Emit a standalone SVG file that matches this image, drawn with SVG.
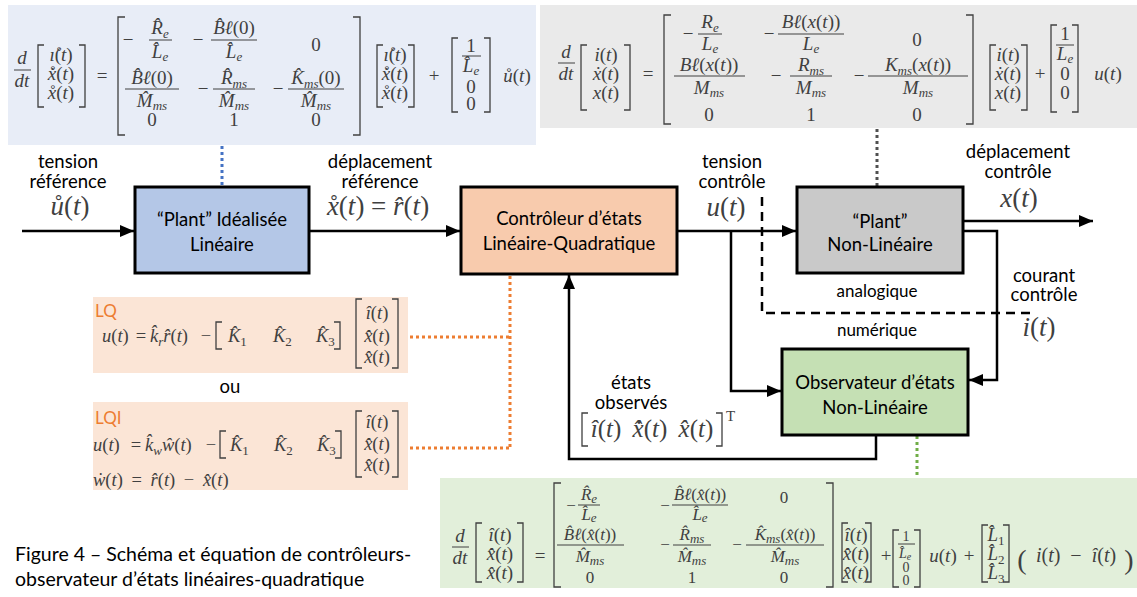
<svg xmlns="http://www.w3.org/2000/svg" width="1137" height="597" viewBox="0 0 1137 597">
<defs>
<style>
.box{stroke:#000;stroke-width:3}
.t{font-family:Lato,"Liberation Sans",sans-serif;font-size:18.5px;fill:#000;text-anchor:middle}
.sm{font-size:17px}
.cap{font-family:Lato,"Liberation Sans",sans-serif;font-size:19.5px;fill:#000}
.tag{font-family:Lato,"Liberation Sans",sans-serif;font-size:17px;fill:#ED7D31}
.m{font-family:"Liberation Serif","DejaVu Serif",serif;font-size:19px;font-style:italic;fill:#404040}
.c{text-anchor:middle}
.u{font-style:normal}
.s{font-size:13px}
.L{font-size:27px}
.q{font-size:18.5px}
.g{font-size:17px}
.v{font-size:14px}
.br{fill:none;stroke:#404040;stroke-width:1.3}
.fr{stroke:#404040;stroke-width:1}
.con{fill:none;stroke:#000;stroke-width:2.5}
.dash{fill:none;stroke:#000;stroke-width:2.5;stroke-dasharray:9 6}
.dot{fill:none;stroke-width:3;stroke-dasharray:3 3}
</style>
<marker id="ah" markerUnits="userSpaceOnUse" markerWidth="14" markerHeight="12" refX="14" refY="6" orient="auto"><path d="M0 0L14 6L0 12z" fill="#000"/></marker>
</defs>
<rect width="1137" height="597" fill="#fff"/>

<g id="eq-ideal">
<rect x="8" y="5" width="528" height="140" fill="#E8EDF7"/>
<text class="m c" x="22" y="64">d</text>
<line class="fr" x1="14" y1="70" x2="31" y2="70"/>
<text class="m c" x="22" y="87">dt</text>
<path class="br" d="M44 45H38V107H44M79 45H85V107H79"/>
<text class="m c" x="61" y="61">&#x131;&#x30A;<tspan class="u">(</tspan>t<tspan class="u">)</tspan></text>
<text class="m c" x="61" y="80">x&#x30A;&#x307;<tspan class="u">(</tspan>t<tspan class="u">)</tspan></text>
<text class="m c" x="61" y="99">x&#x30A;<tspan class="u">(</tspan>t<tspan class="u">)</tspan></text>
<text class="m u c" x="102" y="82">=</text>
<path class="br" d="M125 17H118V135H125M353 17H360V135H353"/>
<text class="m u c" x="128" y="46">&#x2212;</text>
<text class="m c" x="160" y="34">R&#x302;<tspan class="s" dy="4">e</tspan></text>
<line class="fr" x1="149" y1="40" x2="172" y2="40"/>
<text class="m c" x="160" y="58">L&#x302;<tspan class="s" dy="3">e</tspan></text>
<text class="m u c" x="198" y="46">&#x2212;</text>
<text class="m c" x="234" y="34">B&#x302;&#x2113;<tspan class="u">(0)</tspan></text>
<line class="fr" x1="211" y1="40" x2="257" y2="40"/>
<text class="m c" x="234" y="58">L&#x302;<tspan class="s" dy="3">e</tspan></text>
<text class="m u c" x="316" y="51">0</text>
<text class="m c" x="152" y="84">B&#x302;&#x2113;<tspan class="u">(0)</tspan></text>
<line class="fr" x1="125" y1="89" x2="179" y2="89"/>
<text class="m c" x="152" y="107">M&#x302;<tspan class="s" dy="3">ms</tspan></text>
<text class="m u c" x="203" y="95">&#x2212;</text>
<text class="m c" x="234" y="84">R&#x302;<tspan class="s" dy="4">ms</tspan></text>
<line class="fr" x1="213" y1="89" x2="255" y2="89"/>
<text class="m c" x="234" y="107">M&#x302;<tspan class="s" dy="3">ms</tspan></text>
<text class="m u c" x="278" y="95">&#x2212;</text>
<text class="m c" x="316" y="84">K&#x302;<tspan class="s" dy="4">ms</tspan><tspan class="u" dy="-4">(0)</tspan></text>
<line class="fr" x1="288" y1="89" x2="344" y2="89"/>
<text class="m c" x="316" y="107">M&#x302;<tspan class="s" dy="3">ms</tspan></text>
<text class="m u c" x="152" y="126">0</text>
<text class="m u c" x="234" y="126">1</text>
<text class="m u c" x="316" y="126">0</text>
<path class="br" d="M383 45H377V107H383M408 45H414V107H408"/>
<text class="m c" x="395" y="61">&#x131;&#x30A;<tspan class="u">(</tspan>t<tspan class="u">)</tspan></text>
<text class="m c" x="395" y="80">x&#x30A;&#x307;<tspan class="u">(</tspan>t<tspan class="u">)</tspan></text>
<text class="m c" x="395" y="99">x&#x30A;<tspan class="u">(</tspan>t<tspan class="u">)</tspan></text>
<text class="m u c" x="434" y="82">+</text>
<path class="br" d="M458 38H452V112H458M484 38H490V112H484"/>
<text class="m u c" x="471" y="52">1</text>
<line class="fr" x1="462" y1="56" x2="481" y2="56"/>
<text class="m c" x="471" y="72">L&#x302;<tspan class="s" dy="3">e</tspan></text>
<text class="m u c" x="471" y="93">0</text>
<text class="m u c" x="471" y="110">0</text>
<text class="m c" x="517" y="82">&#x16F;<tspan class="u">(</tspan>t<tspan class="u">)</tspan></text>
</g>

<g id="eq-plant">
<rect x="540" y="5" width="597" height="123" fill="#EAEAEA"/>
<text class="m c" x="566" y="58">d</text>
<line class="fr" x1="558" y1="63" x2="575" y2="63"/>
<text class="m c" x="566" y="80">dt</text>
<path class="br" d="M587 45H581V110H587M624 45H630V110H624"/>
<text class="m c" x="606" y="61">i<tspan class="u">(</tspan>t<tspan class="u">)</tspan></text>
<text class="m c" x="606" y="80">&#x1E8B;<tspan class="u">(</tspan>t<tspan class="u">)</tspan></text>
<text class="m c" x="606" y="99">x<tspan class="u">(</tspan>t<tspan class="u">)</tspan></text>
<text class="m u c" x="648" y="80">=</text>
<path class="br" d="M671 15H664V124H671M966 15H973V124H966"/>
<text class="m u c" x="688" y="40">&#x2212;</text>
<text class="m c" x="710" y="28">R<tspan class="s" dy="4">e</tspan></text>
<line class="fr" x1="698" y1="34" x2="722" y2="34"/>
<text class="m c" x="710" y="50">L<tspan class="s" dy="3">e</tspan></text>
<text class="m u c" x="769" y="40">&#x2212;</text>
<text class="m c" x="811" y="28">B&#x2113;<tspan class="u">(</tspan>x<tspan class="u">(</tspan>t<tspan class="u">))</tspan></text>
<line class="fr" x1="778" y1="34" x2="844" y2="34"/>
<text class="m c" x="811" y="50">L<tspan class="s" dy="3">e</tspan></text>
<text class="m u c" x="917" y="46">0</text>
<text class="m c" x="709" y="71">B&#x2113;<tspan class="u">(</tspan>x<tspan class="u">(</tspan>t<tspan class="u">))</tspan></text>
<line class="fr" x1="674" y1="76" x2="745" y2="76"/>
<text class="m c" x="709" y="94">M<tspan class="s" dy="3">ms</tspan></text>
<text class="m u c" x="776" y="82">&#x2212;</text>
<text class="m c" x="811" y="71">R<tspan class="s" dy="4">ms</tspan></text>
<line class="fr" x1="790" y1="76" x2="832" y2="76"/>
<text class="m c" x="811" y="94">M<tspan class="s" dy="3">ms</tspan></text>
<text class="m u c" x="859" y="82">&#x2212;</text>
<text class="m c" x="918" y="71">K<tspan class="s" dy="4">ms</tspan><tspan class="u" dy="-4">(</tspan>x<tspan class="u">(</tspan>t<tspan class="u">))</tspan></text>
<line class="fr" x1="868" y1="76" x2="968" y2="76"/>
<text class="m c" x="918" y="94">M<tspan class="s" dy="3">ms</tspan></text>
<text class="m u c" x="709" y="121">0</text>
<text class="m u c" x="811" y="121">1</text>
<text class="m u c" x="917" y="121">0</text>
<path class="br" d="M996 45H990V110H996M1021 45H1027V110H1021"/>
<text class="m c" x="1008" y="61">i<tspan class="u">(</tspan>t<tspan class="u">)</tspan></text>
<text class="m c" x="1008" y="80">&#x1E8B;<tspan class="u">(</tspan>t<tspan class="u">)</tspan></text>
<text class="m c" x="1008" y="99">x<tspan class="u">(</tspan>t<tspan class="u">)</tspan></text>
<text class="m u c" x="1040" y="80">+</text>
<path class="br" d="M1057 25H1051V112H1057M1072 25H1078V112H1072"/>
<text class="m u c" x="1065" y="40">1</text>
<line class="fr" x1="1056" y1="45" x2="1074" y2="45"/>
<text class="m c" x="1065" y="60">L<tspan class="s" dy="3">e</tspan></text>
<text class="m u c" x="1065" y="80">0</text>
<text class="m u c" x="1065" y="99">0</text>
<text class="m c" x="1108" y="80">u<tspan class="u">(</tspan>t<tspan class="u">)</tspan></text>
</g>

<g id="eq-observer">
<rect x="440" y="478" width="697" height="110" fill="#E2EFDA"/>
<text class="m c" x="460" y="542">d</text>
<line class="fr" x1="452" y1="547" x2="469" y2="547"/>
<text class="m c" x="460" y="564">dt</text>
<path class="br" d="M482 523H476V582H482M517 523H523V582H517"/>
<text class="m c" x="500" y="541">&#xEE;<tspan class="u">(</tspan>t<tspan class="u">)</tspan></text>
<text class="m c" x="500" y="560">x&#x302;&#x307;<tspan class="u">(</tspan>t<tspan class="u">)</tspan></text>
<text class="m c" x="500" y="579">x&#x302;<tspan class="u">(</tspan>t<tspan class="u">)</tspan></text>
<text class="m u c" x="540" y="562">=</text>
<path class="br" d="M561 483H554V587H561M826 483H833V587H826"/>
<text class="m g u c" x="571" y="511">&#x2212;</text>
<text class="m g c" x="589" y="500">R&#x302;<tspan class="s" dy="3">e</tspan></text>
<line class="fr" x1="578" y1="505" x2="600" y2="505"/>
<text class="m g c" x="589" y="520">L&#x302;<tspan class="s" dy="2">e</tspan></text>
<text class="m g u c" x="665" y="511">&#x2212;</text>
<text class="m g c" x="700" y="500">B&#x302;&#x2113;<tspan class="u">(</tspan>x&#x302;<tspan class="u">(</tspan>t<tspan class="u">))</tspan></text>
<line class="fr" x1="672" y1="505" x2="728" y2="505"/>
<text class="m g c" x="700" y="520">L&#x302;<tspan class="s" dy="2">e</tspan></text>
<text class="m g u c" x="784" y="503">0</text>
<text class="m g c" x="590" y="540">B&#x302;&#x2113;<tspan class="u">(</tspan>x&#x302;<tspan class="u">(</tspan>t<tspan class="u">))</tspan></text>
<line class="fr" x1="557" y1="545" x2="624" y2="545"/>
<text class="m g c" x="590" y="562">M&#x302;<tspan class="s" dy="3">ms</tspan></text>
<text class="m g u c" x="665" y="550">&#x2212;</text>
<text class="m g c" x="692" y="540">R&#x302;<tspan class="s" dy="3">ms</tspan></text>
<line class="fr" x1="673" y1="545" x2="711" y2="545"/>
<text class="m g c" x="692" y="562">M&#x302;<tspan class="s" dy="3">ms</tspan></text>
<text class="m g u c" x="737" y="550">&#x2212;</text>
<text class="m g c" x="785" y="540">K&#x302;<tspan class="s" dy="3">ms</tspan><tspan class="u" dy="-3">(</tspan>x&#x302;<tspan class="u">(</tspan>t<tspan class="u">))</tspan></text>
<line class="fr" x1="746" y1="545" x2="824" y2="545"/>
<text class="m g c" x="785" y="562">M&#x302;<tspan class="s" dy="3">ms</tspan></text>
<text class="m g u c" x="590" y="583">0</text>
<text class="m g u c" x="692" y="583">1</text>
<text class="m g u c" x="784" y="583">0</text>
<path class="br" d="M848 523H842V582H848M865 523H871V582H865"/>
<text class="m c" x="856" y="541">&#xEE;<tspan class="u">(</tspan>t<tspan class="u">)</tspan></text>
<text class="m c" x="856" y="560">x&#x302;&#x307;<tspan class="u">(</tspan>t<tspan class="u">)</tspan></text>
<text class="m c" x="856" y="579">x&#x302;<tspan class="u">(</tspan>t<tspan class="u">)</tspan></text>
<text class="m u c" x="886" y="562">+</text>
<path class="br" d="M899 530H893V587H899M914 530H920V587H914"/>
<text class="m v u c" x="906" y="541">1</text>
<line class="fr" x1="898" y1="544" x2="915" y2="544"/>
<text class="m v c" x="905" y="558">L&#x302;<tspan style="font-size:10px" dy="2">e</tspan></text>
<text class="m v u c" x="906" y="572">0</text>
<text class="m v u c" x="906" y="585">0</text>
<text class="m c" x="943" y="562">u<tspan class="u">(</tspan>t<tspan class="u">)</tspan></text>
<text class="m u c" x="969" y="562">+</text>
<path class="br" d="M988 525H982V582H988M1003 525H1009V582H1003"/>
<text class="m c" x="996" y="541">L&#x302;<tspan class="s u" dy="4">1</tspan></text>
<text class="m c" x="996" y="560">L&#x302;<tspan class="s u" dy="4">2</tspan></text>
<text class="m c" x="996" y="579">L&#x302;<tspan class="s u" dy="4">3</tspan></text>
<text class="m u c" x="1022" y="569" style="font-size:28px">(</text>
<text class="m c" x="1076" y="562" style="font-size:20px" word-spacing="5">i<tspan class="u">(</tspan>t<tspan class="u">) &#x2212; </tspan>&#xEE;<tspan class="u">(</tspan>t<tspan class="u">)</tspan></text>
<text class="m u c" x="1129" y="569" style="font-size:28px">)</text>
</g>

<g id="eq-lq">
<rect x="93" y="297" width="315" height="76" fill="#FBE5D6"/>
<text class="tag" x="95" y="317">LQ</text>
<text class="m q" x="102" y="342">u<tspan class="u">(</tspan>t<tspan class="u">)</tspan></text>
<text class="m q u c" x="141" y="342">=</text>
<text class="m q" x="150" y="342">k&#x302;<tspan class="s" dy="4">r</tspan><tspan dy="-4">r&#x302;</tspan><tspan class="u">(</tspan>t<tspan class="u">)</tspan></text>
<text class="m q u c" x="206" y="342">&#x2212;</text>
<path class="br" d="M222 322H216V349H222M334 322H340V349H334"/>
<text class="m q" x="228" y="342">K&#x302;<tspan class="s u" dy="4">1</tspan></text>
<text class="m q" x="273" y="342">K&#x302;<tspan class="s u" dy="4">2</tspan></text>
<text class="m q" x="316" y="342">K&#x302;<tspan class="s u" dy="4">3</tspan></text>
<path class="br" d="M362 299H356V368H362M392 299H398V368H392"/>
<text class="m q c" x="377" y="319">&#xEE;<tspan class="u">(</tspan>t<tspan class="u">)</tspan></text>
<text class="m q c" x="377" y="342">x&#x302;&#x307;<tspan class="u">(</tspan>t<tspan class="u">)</tspan></text>
<text class="m q c" x="377" y="363">x&#x302;<tspan class="u">(</tspan>t<tspan class="u">)</tspan></text>
</g>

<text class="t" x="230" y="393">ou</text>

<g id="eq-lqi">
<rect x="93" y="402" width="315" height="88" fill="#FBE5D6"/>
<text class="tag" x="95" y="424">LQI</text>
<text class="m q" x="93" y="451">u<tspan class="u">(</tspan>t<tspan class="u">)</tspan></text>
<text class="m q u c" x="136" y="451">=</text>
<text class="m q" x="145" y="451">k&#x302;<tspan class="s" dy="4">w</tspan><tspan dy="-4">&#x175;</tspan><tspan class="u">(</tspan>t<tspan class="u">)</tspan></text>
<text class="m q u c" x="211" y="451">&#x2212;</text>
<path class="br" d="M226 431H220V458H226M335 431H341V458H335"/>
<text class="m q" x="230" y="451">K&#x302;<tspan class="s u" dy="4">1</tspan></text>
<text class="m q" x="274" y="451">K&#x302;<tspan class="s u" dy="4">2</tspan></text>
<text class="m q" x="317" y="451">K&#x302;<tspan class="s u" dy="4">3</tspan></text>
<path class="br" d="M362 411H356V477H362M392 411H398V477H392"/>
<text class="m q c" x="377" y="428">&#xEE;<tspan class="u">(</tspan>t<tspan class="u">)</tspan></text>
<text class="m q c" x="377" y="450">x&#x302;&#x307;<tspan class="u">(</tspan>t<tspan class="u">)</tspan></text>
<text class="m q c" x="377" y="471">x&#x302;<tspan class="u">(</tspan>t<tspan class="u">)</tspan></text>
<text class="m q" x="93" y="486" word-spacing="4">&#x1E87;<tspan class="u">(</tspan>t<tspan class="u">) = </tspan>r&#x302;<tspan class="u">(</tspan>t<tspan class="u">) &#x2212; </tspan>x&#x302;<tspan class="u">(</tspan>t<tspan class="u">)</tspan></text>
</g>

<g id="connectors">
<path class="dot" stroke="#4472C4" d="M222 146V186"/>
<path class="dot" stroke="#505050" d="M877 129V186"/>
<path class="dot" stroke="#70AD47" d="M917 436V477"/>
<path class="dot" stroke="#ED7D31" d="M410 337H510M410 448H510M510 276V448"/>
<path class="con" d="M22 231H134" marker-end="url(#ah)"/>
<path class="con" d="M310 231H460" marker-end="url(#ah)"/>
<path class="con" d="M678 231H796" marker-end="url(#ah)"/>
<path class="con" d="M731 231V391H781" marker-end="url(#ah)"/>
<path class="con" d="M964 221H1093" marker-end="url(#ah)"/>
<path class="con" d="M964 231H997V380H969" marker-end="url(#ah)"/>
<path class="con" d="M876 436V459H569V275" marker-end="url(#ah)"/>
<path class="dash" d="M762 197V313H1035"/>
</g>

<g id="node-ideal">
<rect class="box" x="135" y="187" width="174" height="86" fill="#B4C7E7"/>
<text class="t" x="222" y="226">&#x201C;Plant&#x201D; Idéalisée</text>
<text class="t" x="222" y="251">Linéaire</text>
</g>
<g id="node-controller">
<rect class="box" x="461" y="187" width="216" height="87" fill="#F8CBAD"/>
<text class="t" x="569" y="225">Contrôleur d&#x2019;états</text>
<text class="t" x="569" y="250">Linéaire-Quadratique</text>
</g>
<g id="node-plant">
<rect class="box" x="797" y="187" width="166" height="86" fill="#C9C9C9"/>
<text class="t" x="880" y="228">&#x201C;Plant&#x201D;</text>
<text class="t" x="880" y="251">Non-Linéaire</text>
</g>
<g id="node-observer">
<rect class="box" x="782" y="349" width="186" height="86" fill="#C5E0B4"/>
<text class="t" x="875" y="389">Observateur d&#x2019;états</text>
<text class="t" x="875" y="414">Non-Linéaire</text>
</g>

<g id="labels">
<text class="t" x="68" y="168">tension</text>
<text class="t" x="68" y="188">référence</text>
<text class="m L c" x="70" y="215">&#x16F;<tspan class="u">(</tspan>t<tspan class="u">)</tspan></text>
<text class="t" x="380" y="168">déplacement</text>
<text class="t" x="380" y="188">référence</text>
<text class="m L c" x="378" y="215">x&#x30A;<tspan class="u">(</tspan>t<tspan class="u">) = </tspan>r&#x302;<tspan class="u">(</tspan>t<tspan class="u">)</tspan></text>
<text class="t" x="732" y="168">tension</text>
<text class="t" x="732" y="188">contrôle</text>
<text class="m L c" x="726" y="216">u<tspan class="u">(</tspan>t<tspan class="u">)</tspan></text>
<text class="t" x="1018" y="158">déplacement</text>
<text class="t" x="1018" y="178">contrôle</text>
<text class="m L c" x="1019" y="207">x<tspan class="u">(</tspan>t<tspan class="u">)</tspan></text>
<text class="t" x="1044" y="282">courant</text>
<text class="t" x="1044" y="301">contrôle</text>
<text class="m c" x="1039" y="336" style="font-size:27px">i<tspan class="u">(</tspan>t<tspan class="u">)</tspan></text>
<text class="t sm" x="877" y="297">analogique</text>
<text class="t sm" x="877" y="336">numérique</text>
<text class="t" x="631" y="389">états</text>
<text class="t" x="631" y="409">observés</text>
<path class="br" d="M588 413H582V446H588M716 413H722V446H716"/>
<text class="m c" x="652" y="437" style="font-size:25px" word-spacing="5">&#xEE;<tspan class="u">(</tspan>t<tspan class="u">)</tspan> x&#x302;&#x307;<tspan class="u">(</tspan>t<tspan class="u">)</tspan> x&#x302;<tspan class="u">(</tspan>t<tspan class="u">)</tspan></text>
<text class="m u" x="726" y="421" style="font-size:15px">T</text>
</g>

<g id="caption">
<text class="cap" x="15" y="561">Figure 4 – Schéma et équation de contrôleurs-</text>
<text class="cap" x="15" y="586">observateur d&#x2019;états linéaires-quadratique</text>
</g>
</svg>
